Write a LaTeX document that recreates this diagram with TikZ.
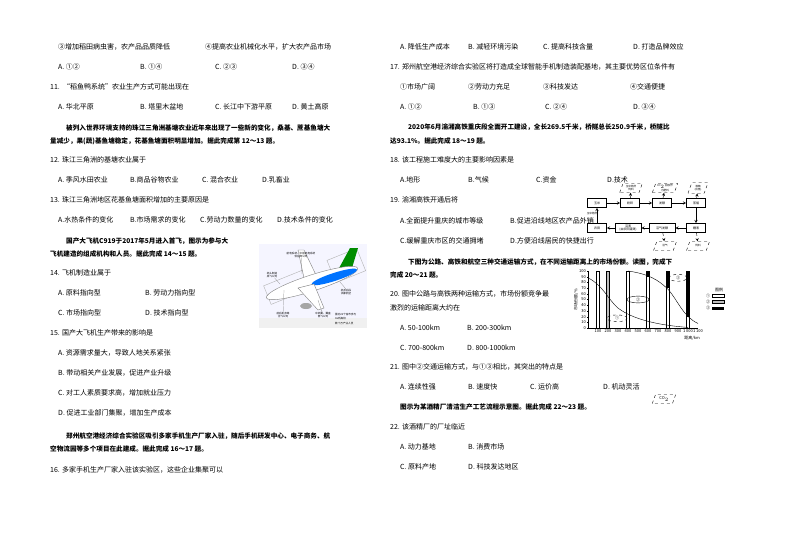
\documentclass[tikz,border=0pt]{standalone}
\usepackage{fontspec}
\setmainfont{Noto Sans CJK SC}
\usetikzlibrary{shapes.geometric}
\begin{document}
\begin{tikzpicture}[x=1pt,y=-1pt,
  txt/.style={anchor=west,inner sep=0pt,font=\fontsize{7}{8}\selectfont},
  ps/.style={txt,font=\fontsize{6.6}{8}\selectfont\bfseries},
  tiny/.style={inner sep=0pt,font=\fontsize{2.6}{3}\selectfont},
  fbox/.style={draw,thick,minimum width=19pt,minimum height=9pt,inner sep=0pt,font=\fontsize{3}{3}\selectfont},
  dbox/.style={draw,dashed,trapezium,trapezium left angle=70,trapezium right angle=110,minimum width=20pt,minimum height=9pt,inner sep=0.5pt,font=\fontsize{2.6}{3}\selectfont},
  arr/.style={-stealth,thin},
  bar/.style={draw,line width=0.5pt}]
\useasboundingbox (0,0) rectangle (794,549);
\fill[white] (0,0) rectangle (794,549);
% ---------- left column ----------
\node[txt] (l1) at (58,47) {③增加稻田病虫害，农产品品质降低};
\node[txt] (l2) at (205,47) {④提高农业机械化水平，扩大农产品市场};
\node[txt] (l3) at (58,67) {A. ①②};
\node[txt] (l4) at (140,67) {B. ①④};
\node[txt] (l5) at (215,67) {C. ②③};
\node[txt] (l6) at (292,67) {D. ③④};
\node[txt] (l7) at (50,87) {11.\ \ “稻鱼鸭系统”农业生产方式可能出现在};
\node[txt] (l8) at (58,107) {A. 华北平原};
\node[txt] (l9) at (140,107) {B. 塔里木盆地};
\node[txt] (l10) at (215,107) {C. 长江中下游平原};
\node[txt] (l11) at (292,107) {D. 黄土高原};
\node[ps] (l12) at (66,128) {被列入世界环境支持的珠江三角洲基塘农业近年来出现了一些新的变化，桑基、蔗基鱼塘大};
\node[ps] (l13) at (50,141) {量减少，果(蔬)基鱼塘稳定，花基鱼塘面积明显增加。据此完成第 12～13 题。};
\node[txt] (l14) at (50,160) {12. 珠江三角洲的基塘农业属于};
\node[txt] (l15) at (58,180) {A. 季风水田农业};
\node[txt] (l16) at (130,180) {B.商品谷物农业};
\node[txt] (l17) at (202,180) {C. 混合农业};
\node[txt] (l18) at (262,180) {D.乳畜业};
\node[txt] (l19) at (50,200) {13. 珠江三角洲地区花基鱼塘面积增加的主要原因是};
\node[txt] (l20) at (58,220) {A.水热条件的变化};
\node[txt] (l21) at (130,220) {B.市场需求的变化};
\node[txt] (l22) at (200,220) {C.劳动力数量的变化};
\node[txt] (l23) at (277,220) {D.技术条件的变化};
\node[ps] (l24) at (66,241) {国产大飞机C919于2017年5月进入首飞，图示为参与大};
\node[ps] (l25) at (50,254) {飞机建造的组成机构和人员。据此完成 14～15 题。};
\node[txt] (l26) at (50,273) {14. 飞机制造业属于};
\node[txt] (l27) at (58,293) {A. 原料指向型};
\node[txt] (l28) at (145,293) {B. 劳动力指向型};
\node[txt] (l29) at (58,313) {C. 市场指向型};
\node[txt] (l30) at (145,313) {D. 技术指向型};
\node[txt] (l31) at (50,333) {15. 国产大飞机生产带来的影响是};
\node[txt] (l32) at (58,353) {A. 资源需求量大，导致人地关系紧张};
\node[txt] (l33) at (58,373) {B. 带动相关产业发展，促进产业升级};
\node[txt] (l34) at (58,393) {C. 对工人素质要求高，增加就业压力};
\node[txt] (l35) at (58,413) {D. 促进工业部门集聚，增加生产成本};
\node[ps] (l36) at (66,436) {郑州航空港经济综合实验区吸引多家手机生产厂家入驻，随后手机研发中心、电子商务、航};
\node[ps] (l37) at (50,449) {空物流园等多个项目在此建成。据此完成 16～17 题。};
\node[txt] (l38) at (50,470) {16. 多家手机生产厂家入驻该实验区，这些企业集聚可以};
% ---------- airplane picture ----------
\fill[blue!4] (259,244) rectangle (367,328);
\fill[gray!12] (259,318) rectangle (367,328);
\draw[gray!60,thin,rotate around={22:(285,288)}] (266,278) rectangle (310,298);
\draw[gray!60,thin,rotate around={22:(345,265)}] (330,254) rectangle (362,278);
\fill[white,draw=gray] (304,278) -- (298,250) -- (304,250) -- (316,275) -- cycle;
\fill[green!55!black] (338,270) -- (350,248) -- (358,248) -- (352,268) -- cycle;
\fill[white,draw=gray,rotate around={18:(312,283)}] (312,283) ellipse (48pt and 8pt);
\fill[blue!55!cyan,rotate around={18:(334,276)}] (334,277) ellipse (24pt and 4pt);
\fill[white,draw=gray] (298,288) -- (318,310) -- (324,308) -- (314,284) -- cycle;
\fill[gray!70] (306,306) ellipse (6pt and 3pt);
\node[tiny,align=center] (p1) at (301,255) {航电系统、中航机电系统\\供应商公司};
\node[tiny,align=center] (p2) at (272,275) {机头制造\\成飞公司};
\node[tiny,align=center] (p3) at (346,292) {机身后段\\洪都航空};
\node[tiny,align=center] (p4) at (283,315) {前后机身等\\沈飞公司};
\node[tiny,align=center] (p5) at (323,315) {中机翼、翼盒\\西飞公司};
\node[tiny,anchor=west] (p6) at (335,314) {国内22个省市参与};
\node[tiny,anchor=west] (p7) at (335,319) {36所高校};
\node[tiny,anchor=west] (p8) at (335,324) {数十万产业人员};
\draw[gray,very thin] (p1) -- (302,274);
\draw[gray,very thin] (p2) -- (280,284);
\draw[gray,very thin] (p4) -- (284,290);
\draw[gray,very thin] (p5) -- (318,300);
\draw[gray,very thin] (p3.north) -- (340,282);
% ---------- right column ----------
\node[txt] (r1) at (400,47) {A. 降低生产成本};
\node[txt] (r2) at (468,47) {B. 减轻环境污染};
\node[txt] (r3) at (543,47) {C. 提高科技含量};
\node[txt] (r4) at (633,47) {D. 打造品牌效应};
\node[txt] (r5) at (390,67) {17. 郑州航空港经济综合实验区将打造成全球智能手机制造装配基地，其主要优势区位条件有};
\node[txt] (r6) at (400,87) {①市场广阔};
\node[txt] (r7) at (468,87) {②劳动力充足};
\node[txt] (r8) at (543,87) {③科技发达};
\node[txt] (r9) at (630,87) {④交通便捷};
\node[txt] (r10) at (400,107) {A. ①②};
\node[txt] (r11) at (473,107) {B. ①③};
\node[txt] (r12) at (545,107) {C. ②④};
\node[txt] (r13) at (633,107) {D. ③④};
\node[ps] (r14) at (408,127) {2020年6月渝湘高铁重庆段全面开工建设，全长269.5千米，桥隧总长250.9千米，桥隧比};
\node[ps] (r15) at (390,141) {达93.1\%。据此完成 18～19 题。};
\node[txt] (r16) at (390,160) {18. 该工程施工难度大的主要影响因素是};
\node[txt] (r17) at (400,180) {A.地形};
\node[txt] (r18) at (468,180) {B.气候};
\node[txt] (r19) at (536,180) {C.资金};
\node[txt] (r20) at (607,180) {D.技术};
\node[txt] (r21) at (390,200) {19. 渝湘高铁开通后将};
\node[txt] (r22) at (400,221) {A.全面提升重庆的城市等级};
\node[txt] (r23) at (510,221) {B.促进沿线地区农产品外销};
\node[txt] (r24) at (400,241) {C.缓解重庆市区的交通拥堵};
\node[txt] (r25) at (510,241) {D.方便沿线居民的快捷出行};
\node[ps] (r26) at (408,262) {下图为公路、高铁和航空三种交通运输方式，在不同运输距离上的市场份额。读图，完成下};
\node[ps] (r27) at (390,275) {完成 20～21 题。};
\node[txt] (r28) at (390,294) {20. 图中公路与高铁两种运输方式，市场份额竞争最};
\node[txt] (r29) at (390,308) {激烈的运输距离大约在};
\node[txt] (r30) at (400,328) {A. 50-100km};
\node[txt] (r31) at (467,328) {B. 200-300km};
\node[txt] (r32) at (400,348) {C. 700-800km};
\node[txt] (r33) at (467,348) {D. 800-1000km};
\node[txt] (r34) at (390,367) {21. 图中②交通运输方式，与①③相比，其突出的特点是};
\node[txt] (r35) at (400,387) {A. 连续性强};
\node[txt] (r36) at (468,387) {B. 速度快};
\node[txt] (r37) at (530,387) {C. 运价高};
\node[txt] (r38) at (603,387) {D. 机动灵活};
\node[ps] (r39) at (400,407) {图示为某酒精厂清洁生产工艺流程示意图。据此完成 22～23 题。};
\node[dbox] (co2) at (664,399) {\fontsize{4}{4}\selectfont CO$_2$};
\node[txt] (r40) at (390,427) {22. 该酒精厂的厂址临近};
\node[txt] (r41) at (400,447) {A. 动力基地};
\node[txt] (r42) at (468,447) {B. 消费市场};
\node[txt] (r43) at (400,467) {C. 原料产地};
\node[txt] (r44) at (468,467) {D. 科技发达地区};
% ---------- flow chart ----------
\node[fbox] (f1) at (597,203) {玉米};
\node[fbox] (f2) at (630,203) {粉碎};
\node[fbox] (f3) at (662,203) {发酵};
\node[fbox] (f4) at (696,203) {蒸馏};
\node[fbox] (f5) at (696,228) {糟液};
\node[fbox,align=center,minimum width=26pt] (f6) at (662,228) {沼气发酵};
\node[fbox,align=center,minimum width=26pt] (f7) at (628,228) {沼液\\(由农田灌溉)};
\node[fbox] (f8) at (597,228) {农田};
\node[dbox,align=center] (d1) at (631,188) {玉米秸秆\\饲料};
\node[dbox,align=center] (d2) at (665,188) {CO$_2$ 回收作\\为肥料};
\node[dbox,align=center] (d3) at (698,188) {酒精\\(出售)};
\node[dbox] (d4) at (665,246) {沼气};
\node[dbox] (d5) at (698,246) {饲料};
\draw[arr] (f1) -- (f2);
\draw[arr] (f2) -- (f3);
\draw[arr] (f3) -- (f4);
\draw[arr] (f4) -- (f5);
\draw[arr] (f5) -- (f6);
\draw[arr] (f6) -- (f7);
\draw[arr] (f7) -- (f8);
\draw[arr] (f8) -- (f1);
\draw[arr,dashed] (f2) -- (d1);
\draw[arr,dashed] (f3) -- (d2);
\draw[arr,dashed] (f4) -- (d3);
\draw[arr,dashed] (f6) -- (d4);
\draw[arr,dashed] (f5) -- (d5);
\node[tiny] (ft) at (592,214) {玉米秸秆};
% ---------- chart ----------
\begin{scope}[shift={(588,328)},x=0.1pt,y=0.57pt]
\foreach \d/\f/\t in {100/white/0,200/gray!50/0,400/white/0,600/black/90,800/black/70,1000/black/20}{
  \filldraw[fill=\f,bar] (\d-15,0) rectangle (\d+15,100);
  \ifnum\t>0 \fill[white] (\d-13,0.4) rectangle (\d+13,\t); \fi
}
\draw[thin] (0,88) .. controls (150,75) and (200,50) .. (300,35)
  .. controls (450,15) and (700,5) .. (1000,1);
\draw[thin] (400,100) .. controls (600,95) and (700,85) .. (800,68)
  .. controls (900,48) and (950,20) .. (1100,8);
\draw[thin] (0,0) -- (0,100);
\draw[thin] (0,0) -- (1100,0);
\foreach \v in {0,10,...,100}{
  \draw[very thin] (0,\v) -- (-15,\v);
  \node[tiny,anchor=east,font=\fontsize{4}{4}\selectfont] at (-20,\v) {\v};}
\foreach \d/\l in {100/100,200/200,300/300,400/400,500/500,600/600,700/700,800/800,900/900,1000/1\,000,1100/1\,100}{
  \node[tiny,anchor=north,font=\fontsize{4}{4}\selectfont] at (\d,-3) {\l};}
\node[tiny,font=\fontsize{4}{4}\selectfont] at (1040,-17) {距离/km};
\node[tiny,rotate=90,font=\fontsize{4}{4}\selectfont] at (-120,50) {市场份额/\%};
\draw[dashed,thin] (290,17) ellipse (100 and 6);
\node[tiny,font=\fontsize{4}{4}\selectfont] at (290,17) {①};
\draw[thin] (500,50) ellipse (110 and 6);
\node[tiny,font=\fontsize{4}{4}\selectfont] at (500,50) {②};
\draw[dashed,thin] (900,88) ellipse (90 and 6);
\node[tiny,font=\fontsize{4}{4}\selectfont] at (900,88) {③};
\end{scope}
\node[tiny,font=\fontsize{4}{4}\selectfont] (lg) at (719,290) {图例};
\node[tiny,font=\fontsize{4}{4}\selectfont] (lg1) at (708,296) {①};
\node[tiny,font=\fontsize{4}{4}\selectfont] (lg2) at (708,302) {②};
\node[tiny,font=\fontsize{4}{4}\selectfont] (lg3) at (708,308) {③};
\draw[thin] (712,294.5) rectangle (724,297.5);
\filldraw[fill=gray!50,thin] (712,300.5) rectangle (724,303.5);
\fill[black] (712,306.5) rectangle (724,309.5);
\end{tikzpicture}
\end{document}
